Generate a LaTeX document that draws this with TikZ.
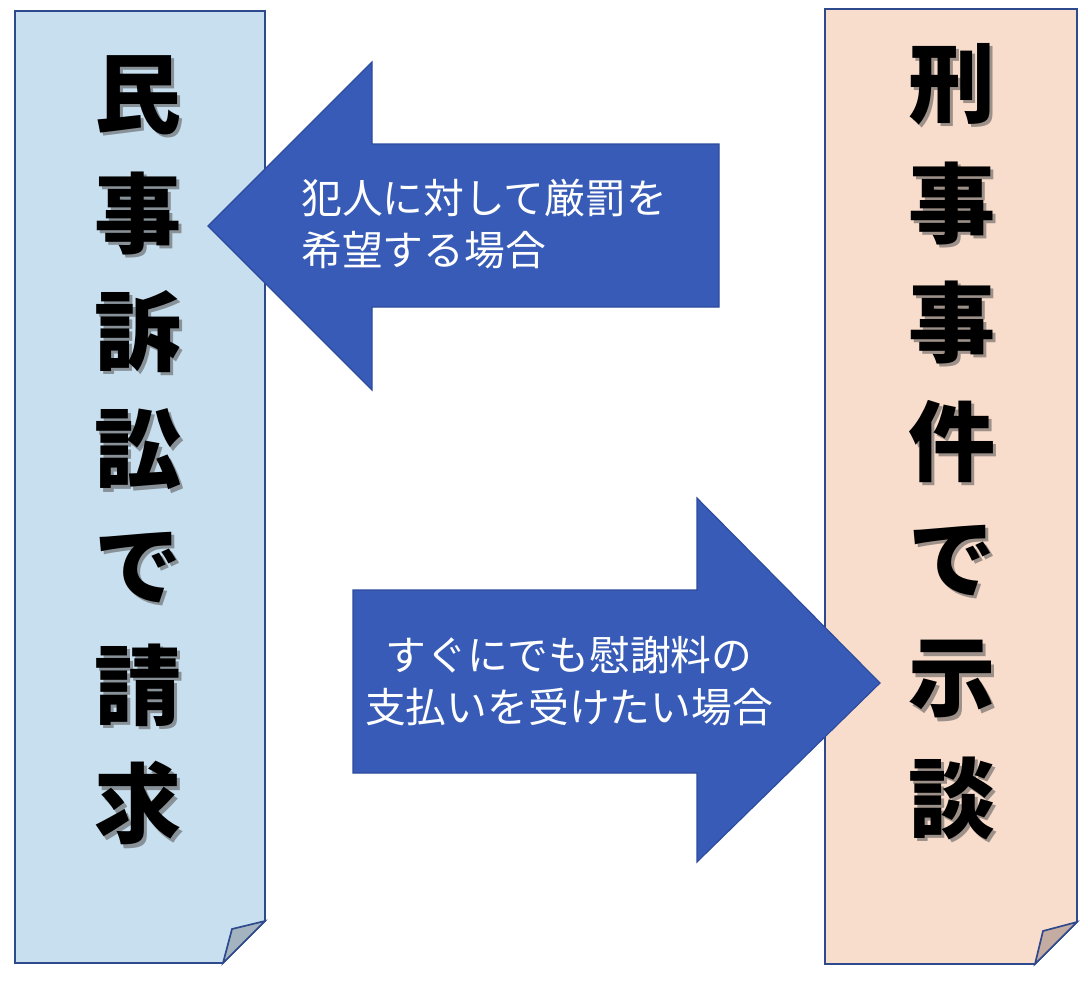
\documentclass[tikz,border=0pt]{standalone}
\usepackage{fontspec}
\newfontfamily\cjk{Noto Sans CJK JP}
\usetikzlibrary{positioning}
\definecolor{civilfill}{HTML}{C7DFEE}
\definecolor{crimfill}{HTML}{F9DDCC}
\definecolor{pageline}{HTML}{2E4A8C}
\definecolor{arrowfill}{HTML}{375BB6}
\definecolor{arrowline}{HTML}{2C4B9C}
\definecolor{foldblue}{HTML}{A3B3BF}
\definecolor{foldred}{HTML}{C4ACA2}
\newcommand{\shadowchar}[2]{\makebox[0pt][l]{\hspace{2.5pt}\raisebox{-2.5pt}{\textcolor{#2}{#1}}}#1}
\tikzset{
  page/.style={draw=pageline, line width=1.2pt, line join=miter},
  bigarrow/.style={fill=arrowfill, draw=arrowline, line width=0.8pt},
  bigchar/.style={font=\cjk\bfseries\fontsize{62}{62}\selectfont, inner sep=0pt},
  armlabel/.style={font=\cjk\fontsize{29}{37}\selectfont, text=white, inner sep=0pt}
}
\begin{document}
\begin{tikzpicture}[x=0.025cm, y=-0.025cm]
  \useasboundingbox (0,0) rectangle (1088,982);
  % civil suit page
  \draw[page, fill=civilfill] (15,11)--(265,11)--(265,921)--(223,963)--(15,963)--cycle;
  \draw[page, fill=foldblue] (265,921)--(232,929)--(223,963)--cycle;
  % criminal case page
  \draw[page, fill=crimfill] (825,9)--(1077,9)--(1077,922)--(1035,964)--(825,964)--cycle;
  \draw[page, fill=foldred] (1077,922)--(1043,931)--(1035,964)--cycle;
  % arrows
  \draw[bigarrow] (208,226)--(372,62)--(372,144)--(719,144)--(719,307)--(372,307)--(372,390)--cycle;
  \draw[bigarrow] (880,683)--(697,498)--(697,590)--(353,590)--(353,773)--(697,773)--(697,862)--cycle;
  % vertical titles
  \foreach \c [count=\i] in {民,事,訴,訟,で,請,求}
    \node (civil\i) [bigchar] at (138, {97+118*(\i-1)}) {\shadowchar{\c}{black!30!civilfill!60!gray}};
  \foreach \c [count=\i] in {刑,事,事,件,で,示,談}
    \node (crim\i) [bigchar] at (952, {86+119*(\i-1)}) {\shadowchar{\c}{black!30!crimfill!60!gray}};
  % arrow labels
  \node (punish) [armlabel, anchor=west, align=left] at (301,224) {犯人に対して厳罰を\\希望する場合};
  \node (money) [armlabel, align=center] at (569,681) {すぐにでも慰謝料の\\支払いを受けたい場合};
\end{tikzpicture}
\end{document}
